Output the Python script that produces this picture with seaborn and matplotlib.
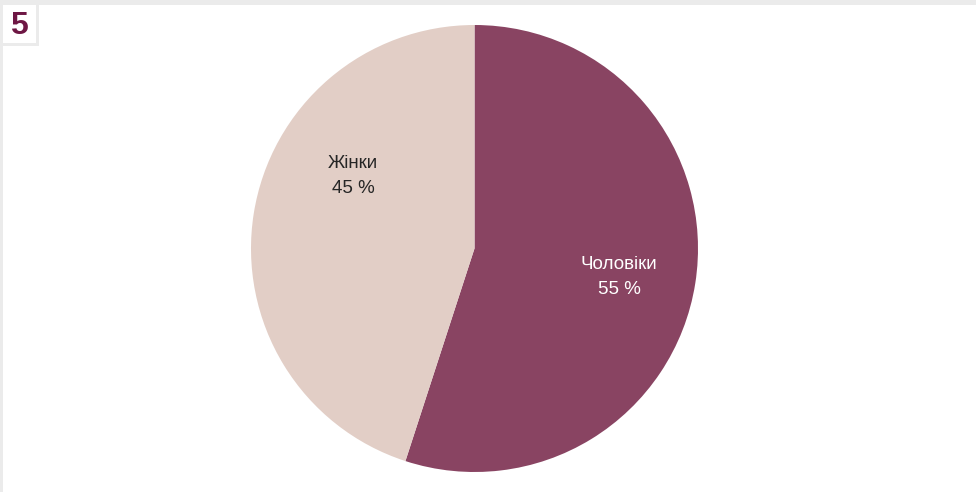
import matplotlib
matplotlib.use("Agg")
import matplotlib.pyplot as plt
from matplotlib.patches import Rectangle
import seaborn as sns

# Gender split
categories = ["Чоловіки", "Жінки"]
shares = [55, 45]
colors = ["#894462", "#e2cec6"]
text_colors = ["#ffffff", "#262626"]
# label anchor points, in units of the pie radius
label_xy = [(0.647, -0.128), (-0.544, 0.324)]
badge = "5"

sns.set_theme(style="white")
plt.rcParams["font.family"] = ["Liberation Sans", "DejaVu Sans"]

W, H = 976, 492
fig = plt.figure(figsize=(W / 100, H / 100), dpi=100)
fig.patch.set_facecolor("#ebebeb")

# white panel with a frame on top/left, and the numbered badge
bg = fig.add_axes([0, 0, 1, 1])
bg.set_xlim(0, W)
bg.set_ylim(H, 0)
bg.axis("off")
bg.add_patch(Rectangle((3, 5), W - 3, H - 5, facecolor="white", edgecolor="none"))
bg.add_patch(Rectangle((3, 43), 36, 3, facecolor="#ebebeb", edgecolor="none"))
bg.add_patch(Rectangle((36, 5), 3, 41, facecolor="#ebebeb", edgecolor="none"))
bg.text(19, 26, badge, ha="center", va="center", fontsize=23, fontweight="bold",
        color="#6e1744")

# pie
cx, cy, r = 474.5, 248.5, 223.5
ax = fig.add_axes([(cx - r) / W, (H - cy - r) / H, 2 * r / W, 2 * r / H])
ax.pie(shares, colors=colors, startangle=90, counterclock=False,
       wedgeprops=dict(linewidth=0), radius=1)
ax.set_xlim(-1, 1)
ax.set_ylim(-1, 1)
ax.set_aspect("equal")
ax.axis("off")

for name, val, (x, y), tc in zip(categories, shares, label_xy, text_colors):
    ax.text(x, y, f"{name}\n{val} %", ha="center", va="center", fontsize=13.5,
            color=tc, linespacing=1.6)

fig.savefig("out.png", dpi=100, facecolor=fig.get_facecolor())
